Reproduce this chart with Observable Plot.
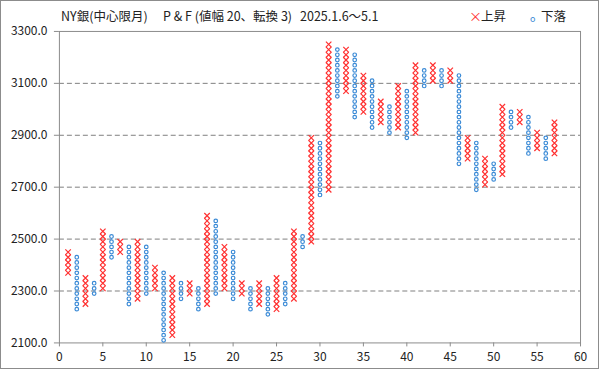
<!DOCTYPE html>
<html><head><meta charset="utf-8">
<script src="https://cdn.jsdelivr.net/npm/d3@7"></script>
<script src="https://cdn.jsdelivr.net/npm/@observablehq/plot@0.6"></script>
<style>
html,body{margin:0;padding:0;background:#fff;}
#wrap{position:relative;width:599px;height:369px;box-sizing:border-box;border:1px solid #8c8c8c;overflow:hidden;font-family:"Noto Sans CJK JP","Noto Sans",sans-serif;}
.t{position:absolute;top:6px;font-size:12.5px;color:#222;white-space:pre;line-height:18px;}
#lx{color:#ff3030;font-size:13px;}
#lo{color:#3a8ad6;font-size:9px;top:9px;}
#chart{position:absolute;left:-1px;top:-1px;}
</style></head>
<body><div id="wrap"><div id="chart"></div>
<div class="t" style="left:60px">NY銀(中心限月)</div>
<div class="t" style="left:162px">P &amp; F (値幅 20、転換 3)</div>
<div class="t" style="left:299px">2025.1.6～5.1</div>
<div class="t" id="lx" style="left:468px">×</div>
<div class="t" style="left:480px">上昇</div>
<div class="t" id="lo" style="left:529px">o</div>
<div class="t" style="left:540px">下落</div>
</div>
<script>
// Point & Figure columns (box size 20, reversal 3)
const columns = d3.range(1, 58);
const colType = columns.map(c => c % 2 === 1 ? "上昇" : "下落");
const colLow  = [2370,2230,2250,2290,2310,2430,2450,2250,2270,2290,2310,2110,2130,2270,2290,2230,2250,2290,2310,2270,2290,2230,2250,2210,2230,2250,2270,2470,2490,2670,2690,3050,3070,2970,2990,2930,2950,2910,2930,2890,2910,3090,3110,3090,3110,2790,2810,2690,2710,2730,2750,2930,2950,2830,2850,2810,2830];
const colHigh = [2450,2430,2350,2330,2530,2510,2490,2470,2490,2470,2390,2370,2350,2330,2330,2310,2590,2570,2470,2450,2330,2310,2330,2310,2350,2330,2530,2510,2890,2870,3250,3230,3230,3210,3130,3110,3030,3010,3090,3070,3170,3150,3170,3150,3150,3130,2890,2870,2810,2790,3010,2990,2990,2970,2910,2890,2950];
const boxSize = 20;
const yTicks = [2100,2300,2500,2700,2900,3100,3300];
const xTicks = [0,5,10,15,20,25,30,35,40,45,50,55,60];

const boxes = [];
columns.forEach((c, i) => {
  for (let v = colLow[i]; v <= colHigh[i] + 0.1; v += boxSize) boxes.push({col: c, v, type: colType[i]});
});

const chart = Plot.plot({
  width: 599, height: 369,
  marginLeft: 59, marginRight: 18, marginTop: 31, marginBottom: 26,
  style: {fontFamily: '"Noto Sans CJK JP","Noto Sans",sans-serif', fontSize: "12px", color: "#222", background: "transparent"},
  x: {domain: [0, 60]},
  y: {domain: [2100, 3300]},
  marks: [
    Plot.gridY(yTicks.filter(d => d > 2100 && d < 3300), {stroke: "#808080", strokeOpacity: 1, strokeDasharray: "5,3"}),
    Plot.frame({stroke: "#8c8c8c"}),
    Plot.axisY({ticks: yTicks, tickFormat: d => d.toFixed(1), tickSize: 5, tickPadding: 7, stroke: "#8c8c8c", fill: "#222", label: null}),
    Plot.axisX({ticks: xTicks, tickSize: 4, tickPadding: 6, stroke: "#8c8c8c", fill: "#222", label: null}),
    Plot.dot(boxes.filter(d => d.type === "上昇"), {x: "col", y: "v", symbol: "times", r: 2.6, stroke: "#ff3030", strokeWidth: 1.2}),
    Plot.dot(boxes.filter(d => d.type === "下落"), {x: "col", y: "v", symbol: "circle", r: 1.8, stroke: "#3a8ad6", fill: "white", strokeWidth: 1.2})
  ]
});
document.getElementById("chart").appendChild(chart);
</script>
</body></html>
